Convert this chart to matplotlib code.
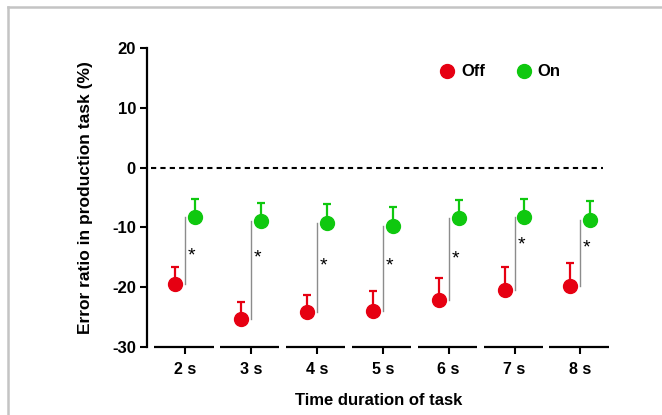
import numpy as np
import matplotlib
matplotlib.use('Agg')
import matplotlib.pyplot as plt
from matplotlib.lines import Line2D

plt.rcParams['font.family'] = ['Liberation Sans', 'DejaVu Sans']
plt.rcParams['font.weight'] = 'bold'
plt.rcParams['axes.unicode_minus'] = False

durations = ['2 s', '3 s', '4 s', '5 s', '6 s', '7 s', '8 s']
off_mean = [-19.5, -25.4, -24.2, -23.9, -22.1, -20.4, -19.8]
off_sem = [2.9, 2.9, 2.9, 3.2, 3.7, 3.8, 3.8]
on_mean = [-8.3, -9.0, -9.2, -9.7, -8.5, -8.3, -8.7]
on_sem = [3.0, 3.1, 3.05, 3.05, 3.0, 3.0, 3.1]
star_y = [-14.7, -15.1, -16.4, -16.5, -15.3, -12.9, -13.5]

red = '#e60012'
green = '#0fc80f'

fig = plt.figure(figsize=(6.62, 4.15), dpi=100)
ax = fig.add_axes([147 / 662, 1 - 347 / 415, (610 - 147) / 662, (347 - 48) / 415])

x = np.arange(len(durations))
off = 0.15

ax.errorbar(x - off, off_mean, yerr=[np.zeros(len(x)), off_sem], fmt='o', color=red,
            ms=10, elinewidth=1.6, capsize=3, capthick=1.6, zorder=3)
ax.errorbar(x + off, on_mean, yerr=[np.zeros(len(x)), on_sem], fmt='o', color=green,
            ms=10, elinewidth=1.6, capsize=3, capthick=1.6, zorder=3)

# significance bars
for i in range(len(x)):
    ax.plot([x[i], x[i]], [on_mean[i], off_mean[i]], color='#8c8c8c', lw=1.0, zorder=2)
    ax.text(x[i] + 0.1, star_y[i], '*', fontsize=14, ha='center', va='center',
            fontweight='normal')

# zero line
ax.plot([-0.52, 6.35], [0, 0], color='black', lw=1.5, ls=(0, (2.5, 2)), zorder=1)

# broken x axis segments
for i in range(len(x)):
    ax.plot([x[i] - 0.47, x[i] + 0.43], [-30, -30], color='black', lw=1.6,
            clip_on=False, solid_capstyle='butt')

ax.set_xlim(-0.58, 6.45)
ax.set_ylim(-30, 20)
ax.set_yticks([20, 10, 0, -10, -20, -30])
ax.set_xticks(x)
ax.set_xticklabels(durations, fontsize=11.5, fontweight='bold')
ax.tick_params(axis='y', labelsize=12, width=1.5, length=5, pad=3)
ax.tick_params(axis='x', width=1.5, length=5, pad=6)
for t in ax.get_yticklabels():
    t.set_fontweight('bold')

for s in ['top', 'right', 'bottom']:
    ax.spines[s].set_visible(False)
ax.spines['left'].set_linewidth(1.6)

ax.set_ylabel('Error ratio in production task (%)', fontsize=12.5, fontweight='bold', labelpad=14)
ax.set_xlabel('Time duration of task', fontsize=12, fontweight='bold', labelpad=11)

legend_handles = [
    Line2D([], [], marker='o', ls='none', color=red, ms=10, label='Off'),
    Line2D([], [], marker='o', ls='none', color=green, ms=10, label='On'),
]
ax.legend(handles=legend_handles, loc='center left', bbox_to_anchor=(0.631, 0.92), ncol=2,
          frameon=False, borderpad=0, borderaxespad=0, handlelength=1.0,
          handletextpad=0.33, columnspacing=1.8, prop={'size': 12, 'weight': 'bold'})

# outer frame
fig.add_artist(Line2D([8 / 662, 1], [1 - 7.5 / 415, 1 - 7.5 / 415], color='#c4c4c4', lw=1.8))
fig.add_artist(Line2D([8 / 662, 8 / 662], [0, 1 - 7.5 / 415], color='#c4c4c4', lw=1.8))

fig.savefig('out.png', dpi=100)
